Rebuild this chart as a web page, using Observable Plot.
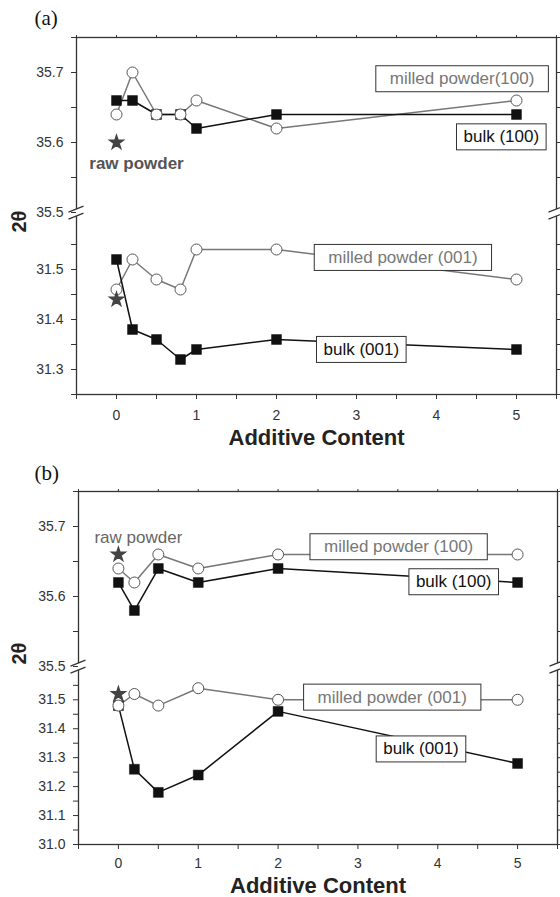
<!DOCTYPE html>
<html><head><meta charset="utf-8">
<script src="https://cdn.jsdelivr.net/npm/d3@7"></script>
<script src="https://cdn.jsdelivr.net/npm/@observablehq/plot@0.6"></script>
<style>
body{margin:0;background:#fff;}
#chart{width:560px;}
#chart svg{display:block;}
</style></head><body><div id="chart"></div>
<script>
// ---------- data ----------
const contentA = [0, 0.2, 0.5, 0.8, 1, 2, 5];
const bulk100A = [35.66, 35.66, 35.64, 35.64, 35.62, 35.64, 35.64];
const milled100A = [35.64, 35.70, 35.64, 35.64, 35.66, 35.62, 35.66];
const bulk001A = [31.52, 31.38, 31.36, 31.32, 31.34, 31.36, 31.34];
const milled001A = [31.46, 31.52, 31.48, 31.46, 31.54, 31.54, 31.48];
const rawA = [35.60, 31.44];

const contentB = [0, 0.2, 0.5, 1, 2, 5];
const bulk100B = [35.62, 35.58, 35.64, 35.62, 35.64, 35.62];
const milled100B = [35.64, 35.62, 35.66, 35.64, 35.66, 35.66];
const bulk001B = [31.48, 31.26, 31.18, 31.24, 31.46, 31.28];
const milled001B = [31.48, 31.52, 31.48, 31.54, 31.50, 31.50];
const rawB = [35.66, 31.52];

const xTicks = [0, 1, 2, 3, 4, 5];
const xMinor = [-0.5, 0.5, 1.5, 2.5, 3.5, 4.5, 5.5];
const xTop = [-0.5, 0, 0.5, 1, 1.5, 2, 2.5, 3, 3.5, 4, 4.5, 5, 5.5];

const yTicksA = [31.3, 31.4, 31.5, 35.5, 35.6, 35.7];
const yMinorA = [31.25, 31.35, 31.45, 31.55, 35.55, 35.65, 35.75];
const yTicksB = [31.0, 31.1, 31.2, 31.3, 31.4, 31.5, 35.5, 35.6, 35.7];
const yMinorB = [31.05, 31.15, 31.25, 31.35, 31.45, 31.55, 35.55, 35.65, 35.75];

const labelsA = [
  {text: "milled powder(100)", x: 4.32, y: 35.691, kind: "milled"},
  {text: "bulk (100)", x: 4.81, y: 35.608, kind: "bulk"},
  {text: "milled powder (001)", x: 3.58, y: 31.524, kind: "milled"},
  {text: "bulk (001)", x: 3.06, y: 31.34, kind: "bulk"}
];
const labelsB = [
  {text: "milled powder (100)", x: 3.51, y: 35.671, kind: "milled"},
  {text: "bulk (100)", x: 4.2, y: 35.621, kind: "bulk"},
  {text: "milled powder (001)", x: 3.43, y: 31.509, kind: "milled"},
  {text: "bulk (001)", x: 3.79, y: 31.33, kind: "bulk"}
];
const rawLabelA = {text: "raw powder", x: 0.25, y: 35.57};
const rawLabelB = {text: "raw powder", x: 0.25, y: 35.684};

// ---------- styles ----------
const milledColor = "#777";
const bulkColor = "#111";
const axisColor = "#333";
const font = "'Liberation Sans', Arial, Helvetica, sans-serif";

const breakFill = {draw(ctx) { ctx.moveTo(-8, -0.3); ctx.lineTo(7, -6.3); ctx.lineTo(7, 0.7); ctx.lineTo(-8, 6.7); ctx.closePath(); }};
const breakLines = {draw(ctx) { ctx.moveTo(-8, -0.3); ctx.lineTo(7, -6.3); ctx.moveTo(-8, 6.7); ctx.lineTo(7, 0.7); }};

function makePanel(p) {
  const rows = ys => p.content.map((x, i) => ({x, y: ys[i]}));
  const b100 = rows(p.bulk100), m100 = rows(p.milled100), b001 = rows(p.bulk001), m001 = rows(p.milled001);
  const raw = p.raw.map(y => ({x: 0, y}));
  const plotBottom = p.height - p.marginBottom;
  const breakAt = (p.lowMax - p.lowMin) * p.lowScale;
  // broken axis: lower segment and upper segment stacked in one linear space
  const broken = v => v >= 35 ? breakAt + (v - 35.5) * p.upScale : (v - p.lowMin) * p.lowScale;
  const breaks = [{x: -0.5, y: 35.5}, {x: 5.5, y: 35.5}];
  const frameMid = (p.marginTop + plotBottom) / 2;
  const lineOpts = (c) => ({x: "x", y: "y", stroke: c, strokeWidth: 1.5});
  return Plot.plot({
    width: 560,
    height: p.height,
    marginTop: p.marginTop,
    marginBottom: p.marginBottom,
    marginLeft: p.marginLeft,
    marginRight: p.marginRight,
    style: {fontFamily: font, fontSize: "14px", background: "white", overflow: "visible"},
    x: {domain: [-0.5, 5.5]},
    y: {transform: broken, domain: [broken(p.lowMin), broken(35.75)]},
    marks: [
      Plot.frame({stroke: axisColor, strokeWidth: 1.3}),
      Plot.dot(breaks, {x: "x", y: "y", symbol: breakFill, r: 8, fill: "white", stroke: "none"}),
      Plot.dot(breaks, {x: "x", y: "y", symbol: breakLines, r: 8, fill: "none", stroke: axisColor, strokeWidth: 1.3}),
      Plot.axisY(p.yTicks, {anchor: "left", tickSize: 5, tickPadding: 8, tickFormat: d3.format(".1f"), fontSize: 14, color: axisColor, label: null}),
      Plot.axisY(p.yMinor, {anchor: "left", tickSize: 5, tickFormat: () => "", color: axisColor, label: null}),
      Plot.axisY(p.yTicks.concat(p.yMinor).filter(v => v !== 35.5), {anchor: "right", tickSize: 3, tickFormat: () => "", color: axisColor, label: null}),
      Plot.axisX(xTicks, {anchor: "bottom", tickSize: 5, tickPadding: p.xPad, tickFormat: d3.format("d"), fontSize: 14, color: axisColor, label: null}),
      Plot.axisX(xMinor, {anchor: "bottom", tickSize: 5, tickFormat: () => "", color: axisColor, label: null}),
      Plot.axisX(xTop, {anchor: "top", tickSize: 3, tickFormat: () => "", color: axisColor, label: null}),
      Plot.line(m100, lineOpts(milledColor)),
      Plot.line(m001, lineOpts(milledColor)),
      Plot.line(b100, lineOpts(bulkColor)),
      Plot.line(b001, lineOpts(bulkColor)),
      Plot.dot(b100.concat(b001), {x: "x", y: "y", symbol: "square", r: 5.6, fill: bulkColor, stroke: bulkColor, strokeWidth: 0.5}),
      Plot.dot(m100.concat(m001), {x: "x", y: "y", symbol: "circle", r: 5.5, fill: "white", stroke: "#555", strokeWidth: 1}),
      Plot.dot(raw, {x: "x", y: "y", symbol: "star", r: 4.2, fill: "#444", stroke: "#444"}),
      Plot.text([p.rawLabel], {x: "x", y: "y", text: "text", fill: p.rawBold ? "#555" : "#666", fontSize: 17, fontWeight: p.rawBold ? "bold" : "normal"}),
      Plot.text(p.labels.filter(d => d.kind === "milled"), {x: "x", y: "y", text: "text", fill: milledColor, fontSize: 17, ariaDescription: "milled label"}),
      Plot.text(p.labels.filter(d => d.kind === "bulk"), {x: "x", y: "y", text: "text", fill: bulkColor, fontSize: 17, ariaDescription: "bulk label"}),
      Plot.text(["Additive Content"], {frameAnchor: "bottom", text: d => d, dy: p.xLabelDy, fontSize: 22, fontWeight: "bold", fill: "#222", lineAnchor: "middle"}),
      Plot.text(["2θ"], {frameAnchor: "left", text: d => d, rotate: -90, dx: 19 - p.marginLeft, dy: p.yLabelCenter - frameMid, fontSize: 20, fontWeight: "bold", fill: "#222", lineAnchor: "middle"}),
      Plot.text([p.letter], {frameAnchor: "top-left", text: d => d, dx: 34 - p.marginLeft, dy: p.letterY - p.marginTop, fontSize: 21, fontFamily: "'Liberation Serif', 'Times New Roman', serif", fill: "#111", lineAnchor: "middle"})
    ]
  });
}

function addBoxes(svg) {
  for (const [desc, pad] of [["milled label", 14], ["bulk label", 7]]) {
    svg.querySelectorAll(`g[aria-description="${desc}"] text`).forEach(t => {
      const b = t.getBBox();
      const r = document.createElementNS("http://www.w3.org/2000/svg", "rect");
      r.setAttribute("x", b.x - pad);
      r.setAttribute("y", b.y - 3.5);
      r.setAttribute("width", b.width + 2 * pad);
      r.setAttribute("height", b.height + 7);
      r.setAttribute("fill", "white");
      r.setAttribute("stroke", "#333");
      r.setAttribute("stroke-width", "1");
      if (t.getAttribute("transform")) r.setAttribute("transform", t.getAttribute("transform"));
      t.parentNode.insertBefore(r, t);
    });
  }
}

const panelA = makePanel({
  content: contentA, bulk100: bulk100A, milled100: milled100A, bulk001: bulk001A, milled001: milled001A, raw: rawA,
  yTicks: yTicksA, yMinor: yMinorA, labels: labelsA, rawLabel: rawLabelA, rawBold: true, letter: "(a)",
  height: 445, marginTop: 37, marginBottom: 51, marginLeft: 76, marginRight: 4,
  lowMin: 31.25, lowMax: 31.614, lowScale: 500, upScale: 700, xPad: 11, xLabelDy: 43, yLabelCenter: 232, letterY: 18
});
const panelB = makePanel({
  content: contentB, bulk100: bulk100B, milled100: milled100B, bulk001: bulk001B, milled001: milled001B, raw: rawB,
  yTicks: yTicksB, yMinor: yMinorB, labels: labelsB, rawLabel: rawLabelB, rawBold: false, letter: "(b)",
  height: 452, marginTop: 46, marginBottom: 53, marginLeft: 78, marginRight: 3,
  lowMin: 31.0, lowMax: 31.615, lowScale: 289.4, upScale: 700, xPad: 9, xLabelDy: 41, yLabelCenter: 219, letterY: 28
});
const chart = document.getElementById("chart");
chart.append(panelA, panelB);
addBoxes(panelA);
addBoxes(panelB);
</script></body></html>
